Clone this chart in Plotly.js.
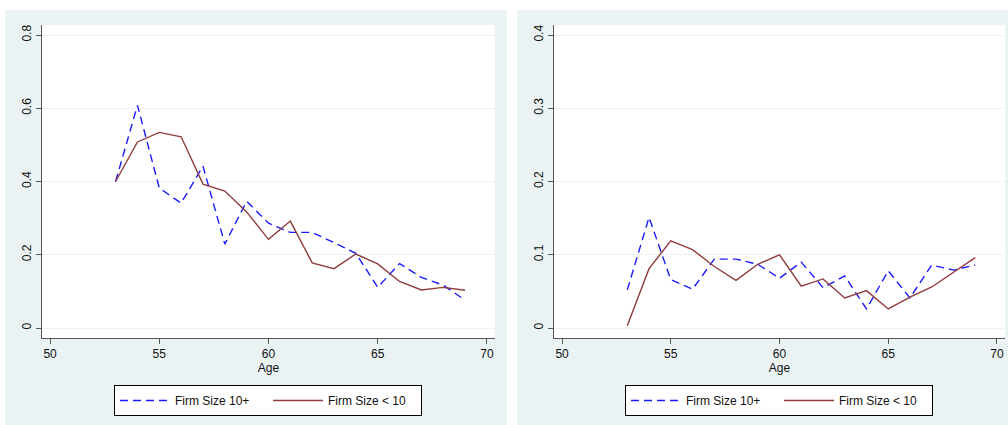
<!DOCTYPE html>
<html>
<head>
<meta charset="utf-8">
<script src="https://cdn.plot.ly/plotly-3.0.1.min.js"></script>
<style>html,body{margin:0;padding:0;background:#fff;}#chart{width:1008px;height:425px;}</style>
</head>
<body>
<div id="chart"></div>
<script>
const ages = [53,54,55,56,57,58,59,60,61,62,63,64,65,66,67,68,69];
const leftLarge = [0.400,0.608,0.382,0.341,0.442,0.229,0.346,0.286,0.261,0.261,0.233,0.204,0.111,0.176,0.138,0.117,0.076];
const leftSmall = [0.400,0.508,0.534,0.522,0.393,0.374,0.317,0.242,0.292,0.178,0.162,0.202,0.175,0.127,0.104,0.111,0.103];
const rightLarge = [0.052,0.151,0.066,0.053,0.094,0.094,0.087,0.068,0.090,0.055,0.071,0.026,0.078,0.041,0.086,0.079,0.086];
const rightSmall = [0.003,0.081,0.119,0.107,0.084,0.065,0.087,0.100,0.057,0.067,0.041,0.051,0.026,0.042,0.056,0.076,0.096];
const xTicks = [50,55,60,65,70];
const leftYTicks = [0,0.2,0.4,0.6,0.8];
const leftYLabels = ['0','0.2','0.4','0.6','0.8'];
const rightYTicks = [0,0.1,0.2,0.3,0.4];
const rightYLabels = ['0','0.1','0.2','0.3','0.4'];
const nameLarge = 'Firm Size 10+';
const nameSmall = 'Firm Size < 10';

const blue = '#1a1aff';
const maroon = '#903c3c';
const bg = '#eaf2f3';
const font = {family: 'Liberation Sans, Arial, sans-serif', size: 12, color: '#111'};

const traces = [
  {x: ages, y: leftLarge, type: 'scatter', mode: 'lines', name: nameLarge, xaxis: 'x', yaxis: 'y', legend: 'legend',
   line: {color: blue, width: 1.4, dash: '8px,5px'}},
  {x: ages, y: leftSmall, type: 'scatter', mode: 'lines', name: nameSmall, xaxis: 'x', yaxis: 'y', legend: 'legend',
   line: {color: maroon, width: 1.4}},
  {x: ages, y: rightLarge, type: 'scatter', mode: 'lines', name: nameLarge, xaxis: 'x2', yaxis: 'y2', legend: 'legend2',
   line: {color: blue, width: 1.4, dash: '8px,5px'}},
  {x: ages, y: rightSmall, type: 'scatter', mode: 'lines', name: nameSmall, xaxis: 'x2', yaxis: 'y2', legend: 'legend2',
   line: {color: maroon, width: 1.4}}
];

function xax(domain, anchor) {
  return {domain: domain, anchor: anchor, range: [49.63, 70.37], tickvals: xTicks, ticktext: xTicks.map(String),
    showgrid: false, zeroline: false, showline: true, linecolor: '#555', linewidth: 1,
    ticks: 'outside', ticklen: 5, tickcolor: '#555', tickfont: font,
    title: {text: 'Age', font: font, standoff: 0}, fixedrange: true};
}
function yax(domain, anchor, range, vals, labels) {
  return {domain: domain, anchor: anchor, range: range, tickvals: vals, ticktext: labels,
    showgrid: true, gridcolor: bg, gridwidth: 1, zeroline: false, showline: true, linecolor: '#555', linewidth: 1,
    ticks: 'outside', ticklen: 5, tickcolor: '#555', tickfont: font, tickangle: -90, fixedrange: true};
}
const yDom = [87/425, 400/425];
const legendBase = {orientation: 'h', y: 40/425, yanchor: 'top', bgcolor: '#ffffff', bordercolor: '#000',
  borderwidth: 1, font: font, entrywidth: 88, itemwidth: 50, traceorder: 'normal', tracegroupgap: 0};
const layout = {
  width: 1008, height: 425,
  margin: {l: 0, r: 0, t: 0, b: 0},
  paper_bgcolor: '#ffffff', plot_bgcolor: '#ffffff',
  font: font,
  xaxis: xax([42/1008, 495/1008], 'y'),
  yaxis: yax(yDom, 'x', [-0.0273, 0.8273], leftYTicks, leftYLabels),
  xaxis2: xax([554/1008, 1005/1008], 'y2'),
  yaxis2: yax(yDom, 'x2', [-0.01365, 0.41365], rightYTicks, rightYLabels),
  legend: Object.assign({}, legendBase, {x: 268/1008, xanchor: 'center'}),
  legend2: Object.assign({}, legendBase, {x: 779/1008, xanchor: 'center'}),
  shapes: [
    {type: 'rect', xref: 'paper', yref: 'paper', x0: 5/1008, x1: 507/1008, y0: 0, y1: 415/425,
     fillcolor: bg, line: {width: 0}, layer: 'below'},
    {type: 'rect', xref: 'paper', yref: 'paper', x0: 517/1008, x1: 1, y0: 0, y1: 415/425,
     fillcolor: bg, line: {width: 0}, layer: 'below'},
    {type: 'rect', xref: 'paper', yref: 'paper', x0: 42/1008, x1: 495/1008, y0: yDom[0], y1: yDom[1],
     fillcolor: '#ffffff', line: {width: 0}, layer: 'below'},
    {type: 'rect', xref: 'paper', yref: 'paper', x0: 554/1008, x1: 1005/1008, y0: yDom[0], y1: yDom[1],
     fillcolor: '#ffffff', line: {width: 0}, layer: 'below'}
  ],
  showlegend: true
};
Plotly.newPlot('chart', traces, layout, {displayModeBar: false, staticPlot: true});
</script>
</body>
</html>
